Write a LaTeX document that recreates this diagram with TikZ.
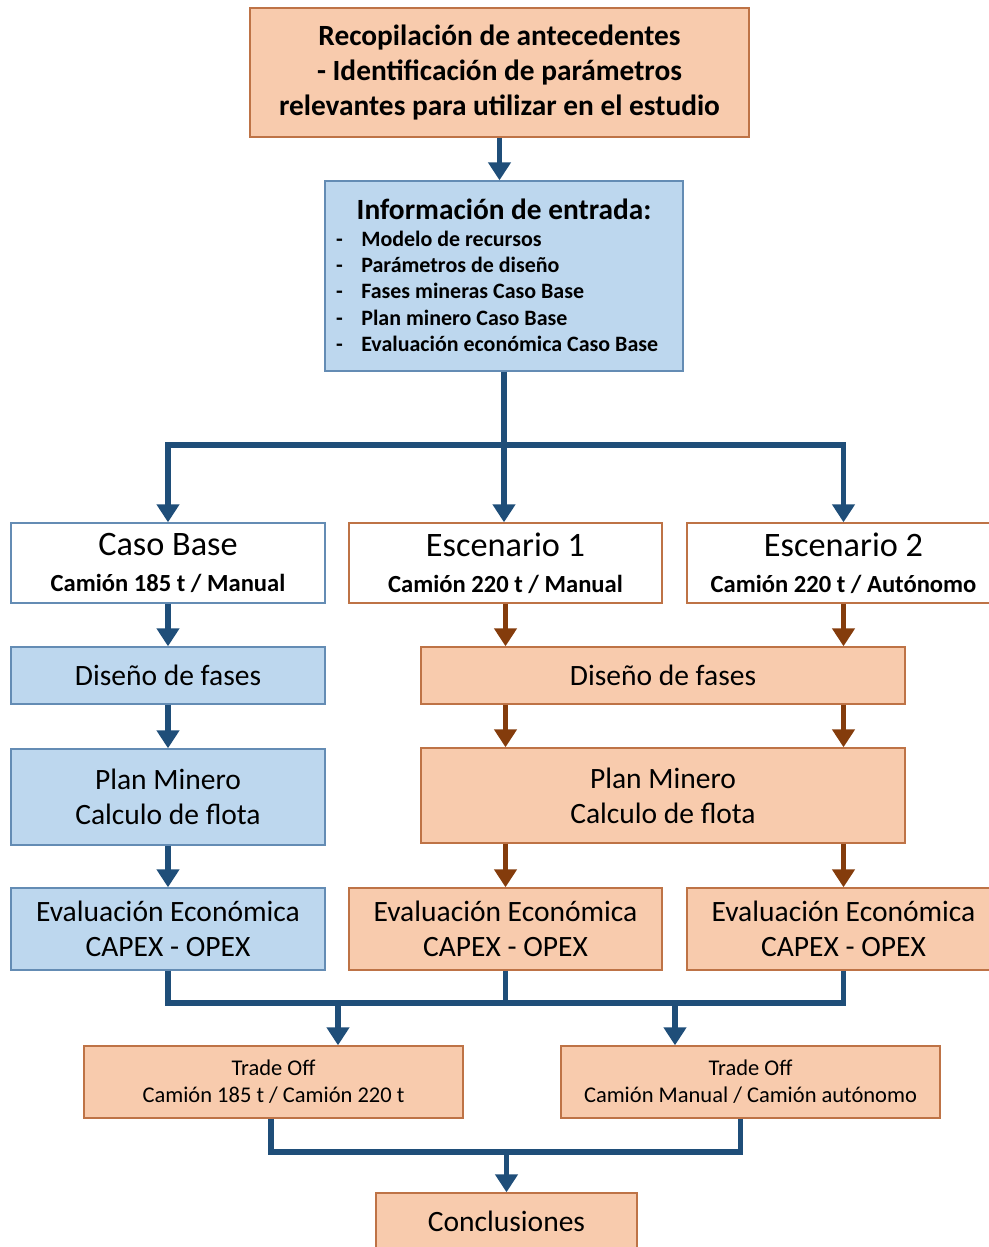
\documentclass[tikz,border=0pt]{standalone}
\usepackage{fontspec}
\setmainfont{Carlito}
\usetikzlibrary{arrows.meta}
\definecolor{peach}{RGB}{248,203,173}
\definecolor{peachline}{RGB}{190,115,70}
\definecolor{lblue}{RGB}{189,215,238}
\definecolor{lblueline}{RGB}{100,140,180}
\definecolor{arrblue}{RGB}{31,78,121}
\definecolor{arrbrown}{RGB}{132,60,12}
\begin{document}
\begin{tikzpicture}[x=0.02cm, y=-0.02cm,
  box/.style={draw, line width=0.8pt, align=center, inner sep=0pt},
  peachbox/.style={box, fill=peach, draw=peachline},
  bluebox/.style={box, fill=lblue, draw=lblueline},
  wbluebox/.style={box, fill=white, draw=lblueline},
  wpeachbox/.style={box, fill=white, draw=peachline},
  bline/.style={draw=arrblue, line width=3.4pt},
  barr/.style={bline, -{Triangle[width=0.44cm,length=0.36cm]}},
  rarr/.style={draw=arrbrown, line width=3.4pt, -{Triangle[width=0.44cm,length=0.36cm]}},
  big/.style={font=\fontsize{19.5}{20.5}\selectfont},
  mid/.style={font=\fontsize{16.8}{20}\selectfont},
  small/.style={font=\fontsize{12.8}{15.5}\selectfont}]
\useasboundingbox (0,0) rectangle (989,1247);
\node[peachbox, minimum width=9.98cm, minimum height=2.58cm, font=\fontsize{16.7}{20}\selectfont\bfseries] (P_0_0) at (499.5,72.5) {Recopilación de antecedentes\\- Identificación de parámetros\\relevantes para utilizar en el estudio};
\node[bluebox, minimum width=7.16cm, minimum height=3.8cm] (P_1_0) at (504,276) {};
\node[font=\bfseries\fontsize{12.5}{15}\selectfont, inner sep=0pt] (P_1_1) at (499,279) {%
  \begin{tabular}{@{}l@{\hspace{10.5pt}}l@{}}
  \multicolumn{2}{c}{\hspace{5.7pt}\fontsize{16.7}{19}\selectfont Información de entrada:}\\[0.5pt]
  - & Modelo de recursos\\
  - & Parámetros de diseño\\
  - & Fases mineras Caso Base\\
  - & Plan minero Caso Base\\
  - & Evaluación económica Caso Base
  \end{tabular}};
\draw[barr] (P_0_0) -- (P_0_0 |- P_1_0.north);
\node[wbluebox, big, minimum width=6.28cm, minimum height=1.6cm] (P_2_0) at (168,563) {Caso Base\\{\fontsize{14}{17}\selectfont\bfseries Camión 185 t / Manual}};
\node[wpeachbox, big, minimum width=6.26cm, minimum height=1.6cm] (P_2_1) at (505.5,563) {Escenario 1\\{\fontsize{14}{17}\selectfont\bfseries Camión 220 t / Manual}};
\node[wpeachbox, big, minimum width=6.26cm, minimum height=1.6cm] (P_2_2) at (843.5,563) {Escenario 2\\{\fontsize{14}{17}\selectfont\bfseries Camión 220 t / Autónomo}};
\coordinate (S_0) at (504,445);
\draw[bline] (P_1_0.south) -- (S_0);
\draw[barr] (S_0) -| (P_2_0.north);
\draw[barr] (S_0) -- (S_0 |- P_2_1.north);
\draw[barr] (S_0) -| (P_2_2.north);
\node[bluebox, mid, minimum width=6.28cm, minimum height=1.14cm] (P_3_0) at (168,675.5) {Diseño de fases};
\node[peachbox, mid, minimum width=9.68cm, minimum height=1.14cm] (P_3_1) at (663,675.5) {Diseño de fases};
\draw[barr] (P_2_0) -- (P_3_0);
\draw[rarr] (P_2_1) -- (P_2_1 |- P_3_1.north);
\draw[rarr] (P_2_2) -- (P_2_2 |- P_3_1.north);
\node[bluebox, mid, minimum width=6.28cm, minimum height=1.92cm] (P_4_0) at (168,797) {Plan Minero\\Calculo de flota};
\node[peachbox, mid, minimum width=9.68cm, minimum height=1.9cm] (P_4_1) at (663,795.5) {Plan Minero\\Calculo de flota};
\draw[barr] (P_3_0) -- (P_4_0);
\draw[rarr] (P_3_1.south -| P_2_1) -- (P_4_1.north -| P_2_1);
\draw[rarr] (P_3_1.south -| P_2_2) -- (P_4_1.north -| P_2_2);
\node[bluebox, mid, minimum width=6.28cm, minimum height=1.64cm] (P_5_0) at (168,929) {Evaluación Económica\\CAPEX - OPEX};
\node[peachbox, mid, minimum width=6.26cm, minimum height=1.64cm] (P_5_1) at (505.5,929) {Evaluación Económica\\CAPEX - OPEX};
\node[peachbox, mid, minimum width=6.26cm, minimum height=1.64cm] (P_5_2) at (843.5,929) {Evaluación Económica\\CAPEX - OPEX};
\draw[barr] (P_4_0) -- (P_5_0);
\draw[rarr] (P_4_1.south -| P_5_1) -- (P_5_1);
\draw[rarr] (P_4_1.south -| P_5_2) -- (P_5_2);
\node[peachbox, small, minimum width=7.58cm, minimum height=1.44cm] (P_6_0) at (273.5,1082) {Trade Off\\Camión 185 t / Camión 220 t};
\node[peachbox, small, minimum width=7.58cm, minimum height=1.44cm] (P_6_1) at (750.5,1082) {Trade Off\\Camión Manual / Camión autónomo};
\coordinate (M_0) at (505.5,1003);
\coordinate (M_1) at (338,1003);
\coordinate (M_2) at (675,1003);
\draw[bline] (P_5_0.south) |- (M_0);
\draw[bline] (P_5_2.south) |- (M_0);
\draw[bline] (P_5_1.south) -- (M_0);
\draw[barr] (M_1) -- (M_1 |- P_6_0.north);
\draw[barr] (M_2) -- (M_2 |- P_6_1.north);
\node[peachbox, mid, minimum width=5.22cm, minimum height=1.12cm] (P_7_0) at (506.5,1221) {Conclusiones};
\coordinate (M_3) at (506.5,1152);
\draw[bline] ([xshift=-0.05cm]P_6_0.south) |- (M_3);
\draw[bline] ([xshift=-0.2cm]P_6_1.south) |- (M_3);
\draw[barr] (M_3) -- (P_7_0);
\end{tikzpicture}
\end{document}
